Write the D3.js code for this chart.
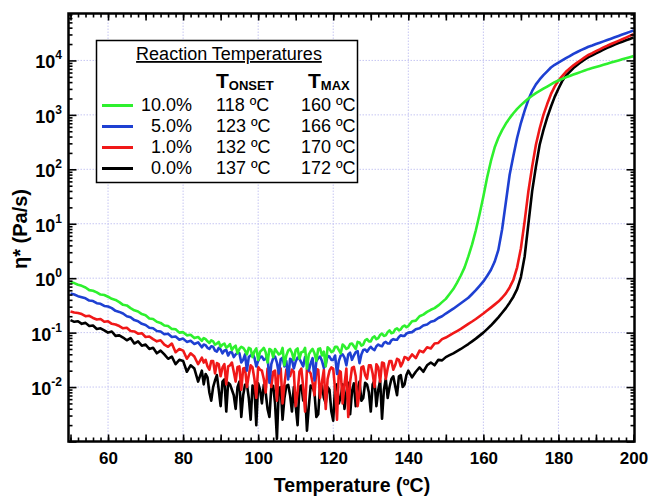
<!DOCTYPE html>
<html>
<head>
<meta charset="utf-8">
<script src="https://cdn.jsdelivr.net/npm/d3@7"></script>
<style>
  body { margin: 0; background: #fff; }
  svg { display: block; }
  text { font-family: "Liberation Sans", Arial, Helvetica, sans-serif; fill: #000; }
</style>
</head>
<body>
<svg id="chart" width="649" height="499"></svg>
<script>
// Temperature sampling (°C): 1 °C steps, 0.5 °C steps through the noisy 85–140 °C band
const temperature = [...d3.range(50, 85), ...d3.range(85, 140, 0.5), ...d3.range(140, 201)];

// η* (Pa·s) for each catalyst loading, aligned with temperature
const eta10 = [
  0.851, 0.813, 0.759, 0.724, 0.676, 0.603, 0.589, 0.550, 0.501, 0.490,
  0.457, 0.417, 0.398, 0.363, 0.324, 0.316, 0.282, 0.257, 0.245, 0.219,
  0.209, 0.182, 0.178, 0.158, 0.151, 0.135, 0.132, 0.117, 0.115, 0.100,
  0.102, 0.0891, 0.0912, 0.0794, 0.0832,
  0.0708, 0.0794, 0.0759, 0.0692, 0.0646, 0.0724, 0.0692, 0.0603, 0.0631, 0.0676,
  0.0550, 0.0603, 0.0631, 0.0525, 0.0562, 0.0617, 0.0479, 0.0537, 0.0575, 0.0417,
  0.0501, 0.0550, 0.0525, 0.0468, 0.0398, 0.0525, 0.0501, 0.0355, 0.0457, 0.0513,
  0.0316, 0.0447, 0.0479, 0.0525, 0.0437, 0.0282, 0.0501, 0.0479, 0.0355, 0.0501,
  0.0447, 0.0398, 0.0417, 0.0525, 0.0251, 0.0380, 0.0468, 0.0501, 0.0427, 0.0316,
  0.0479, 0.0513, 0.0331, 0.0437, 0.0447, 0.0525, 0.0219, 0.0398, 0.0457, 0.0501,
  0.0417, 0.0302, 0.0501, 0.0513, 0.0380, 0.0447, 0.0240, 0.0537, 0.0501, 0.0437,
  0.0457, 0.0550, 0.0550, 0.0479, 0.0417, 0.0603, 0.0562, 0.0501, 0.0525, 0.0617,
  0.0631, 0.0562, 0.0501, 0.0676, 0.0661, 0.0575, 0.0603, 0.0724, 0.0759, 0.0692,
  0.0692, 0.0813, 0.0851, 0.0759, 0.0794, 0.0912, 0.0955, 0.0871, 0.0891, 0.102,
  0.110, 0.0977, 0.100, 0.115, 0.120, 0.110, 0.115, 0.129, 0.135, 0.126,
  0.132, 0.162, 0.166, 0.200, 0.214, 0.240, 0.263, 0.282, 0.316, 0.363,
  0.417, 0.513, 0.631, 0.832, 1.12, 1.58, 2.51, 4.17, 7.59, 15.1,
  31.6, 70.8, 141, 251, 380, 525, 692, 871, 1070, 1290,
  1510, 1740, 2000, 2240, 2510, 2750, 3020, 3310, 3630, 3980,
  4270, 4570, 4900, 5190, 5500, 5820, 6170, 6530, 6920, 7240,
  7590, 7940, 8320, 8710, 9120, 9550, 10000, 10500, 11000, 11500, 12000
];
const eta5 = [
  0.525, 0.501, 0.468, 0.447, 0.427, 0.389, 0.380, 0.347, 0.339, 0.309,
  0.302, 0.282, 0.251, 0.240, 0.224, 0.200, 0.191, 0.170, 0.162, 0.145,
  0.138, 0.123, 0.120, 0.107, 0.105, 0.0933, 0.0955, 0.0832, 0.0851, 0.0741,
  0.0776, 0.0676, 0.0708, 0.0617, 0.0661,
  0.0537, 0.0603, 0.0589, 0.0525, 0.0501, 0.0562, 0.0550, 0.0468, 0.0447, 0.0525,
  0.0490, 0.0417, 0.0468, 0.0479, 0.0380, 0.0437, 0.0437, 0.0355, 0.0398, 0.0427,
  0.0417, 0.0282, 0.0316, 0.0398, 0.0200, 0.0355, 0.0380, 0.0417, 0.0347, 0.0240,
  0.0302, 0.0355, 0.0363, 0.0316, 0.0331, 0.0380, 0.0120, 0.0263, 0.0339, 0.0363,
  0.0282, 0.0178, 0.0324, 0.0347, 0.0240, 0.0302, 0.0138, 0.0331, 0.0316, 0.0219,
  0.0295, 0.0347, 0.0331, 0.0282, 0.0240, 0.0355, 0.0316, 0.0200, 0.0275, 0.0339,
  0.0132, 0.0302, 0.0339, 0.0363, 0.0302, 0.0224, 0.0263, 0.0372, 0.0363, 0.0316,
  0.0316, 0.0380, 0.0174, 0.0302, 0.0380, 0.0398, 0.0347, 0.0251, 0.0398, 0.0427,
  0.0316, 0.0380, 0.0437, 0.0457, 0.0275, 0.0398, 0.0479, 0.0490, 0.0447, 0.0501,
  0.0550, 0.0501, 0.0479, 0.0562, 0.0603, 0.0575, 0.0562, 0.0646, 0.0676, 0.0631,
  0.0631, 0.0724, 0.0759, 0.0741, 0.0741, 0.0832, 0.0891, 0.0871, 0.0871, 0.0955,
  0.100, 0.102, 0.115, 0.120, 0.135, 0.141, 0.158, 0.166, 0.186, 0.200,
  0.224, 0.248, 0.275, 0.309, 0.347, 0.389, 0.437, 0.513, 0.603, 0.724,
  0.871, 1.10, 1.41, 2.00, 3.31, 7.94, 25.1, 79.4, 178, 380,
  708, 1200, 1910, 2750, 3630, 4470, 5370, 6310, 7410, 8320,
  9120, 10000, 11000, 12000, 13200, 14300, 15500, 16600, 17800, 18800,
  20000, 21100, 22400, 23700, 25100, 26600, 28200, 29900, 31600, 33500, 35500
];
const eta1 = [
  0.245, 0.234, 0.229, 0.219, 0.200, 0.204, 0.186, 0.174, 0.178, 0.158,
  0.162, 0.145, 0.141, 0.132, 0.120, 0.123, 0.107, 0.105, 0.0955, 0.0977,
  0.0832, 0.0851, 0.0759, 0.0692, 0.0724, 0.0603, 0.0550, 0.0631, 0.0437, 0.0501,
  0.0468, 0.0331, 0.0417, 0.0363, 0.0263,
  0.0347, 0.0282, 0.0316, 0.0240, 0.0209, 0.0302, 0.0302, 0.0178, 0.0275, 0.0263,
  0.0158, 0.0229, 0.0263, 0.0112, 0.0240, 0.0251, 0.0282, 0.0191, 0.0126, 0.0234,
  0.0240, 0.00891, 0.0219, 0.0224, 0.0100, 0.0166, 0.0251, 0.0229, 0.0141, 0.00631,
  0.0234, 0.0209, 0.0200, 0.0141, 0.00794, 0.0219, 0.0224, 0.0100, 0.0191, 0.0200,
  0.00562, 0.0240, 0.0219, 0.00501, 0.0112, 0.0209, 0.0200, 0.0158, 0.0209, 0.0191,
  0.00447, 0.00794, 0.0191, 0.0219, 0.0100, 0.00355, 0.0219, 0.0200, 0.0178, 0.0120,
  0.00708, 0.0214, 0.0209, 0.00631, 0.0126, 0.0209, 0.00398, 0.0141, 0.0200, 0.0229,
  0.0219, 0.00891, 0.00251, 0.0200, 0.0191, 0.00501, 0.0112, 0.0219, 0.00282, 0.0126,
  0.0224, 0.0234, 0.0158, 0.00447, 0.00794, 0.0229, 0.0240, 0.0166, 0.0141, 0.0251,
  0.0251, 0.0178, 0.0100, 0.0263, 0.0229, 0.0126, 0.0282, 0.0275, 0.0141, 0.0219,
  0.0302, 0.0302, 0.0209, 0.0251, 0.0331, 0.0316, 0.0240, 0.0282, 0.0355, 0.0347,
  0.0316, 0.0398, 0.0339, 0.0468, 0.0437, 0.0537, 0.0513, 0.0631, 0.0646, 0.0759,
  0.0813, 0.0891, 0.0977, 0.107, 0.117, 0.130, 0.145, 0.160, 0.178, 0.200,
  0.224, 0.254, 0.288, 0.327, 0.372, 0.437, 0.525, 0.676, 0.933, 1.58,
  3.55, 11.2, 39.8, 112, 282, 562, 1000, 1580, 2400, 3310,
  4270, 5130, 6170, 7080, 8130, 9120, 10200, 11400, 12600, 13600,
  14800, 16000, 17400, 18600, 20000, 21400, 22900, 24500, 26300, 28200, 30200
];
const eta0 = [
  0.170, 0.158, 0.162, 0.145, 0.151, 0.132, 0.135, 0.117, 0.120, 0.110,
  0.100, 0.105, 0.0871, 0.0891, 0.0813, 0.0724, 0.0794, 0.0631, 0.0692, 0.0575,
  0.0603, 0.0501, 0.0525, 0.0417, 0.0468, 0.0398, 0.0331, 0.0363, 0.0263, 0.0316,
  0.0302, 0.0191, 0.0251, 0.0219, 0.0126,
  0.0200, 0.0112, 0.0174, 0.0151, 0.00794, 0.00562, 0.0100, 0.0132, 0.0166, 0.00891,
  0.00447, 0.0126, 0.0138, 0.00355, 0.0120, 0.0112, 0.00891, 0.00708, 0.00398, 0.0100,
  0.0126, 0.00282, 0.00708, 0.0110, 0.0112, 0.00631, 0.00251, 0.0107, 0.00955, 0.00200,
  0.0117, 0.00891, 0.00501, 0.0110, 0.00794, 0.00398, 0.00282, 0.0100, 0.0105, 0.00501,
  0.00112, 0.00955, 0.0100, 0.00251, 0.00631, 0.0105, 0.0110, 0.00708, 0.00355, 0.0100,
  0.00447, 0.00200, 0.0100, 0.0107, 0.00562, 0.00794, 0.00158, 0.00447, 0.0107, 0.0100,
  0.00794, 0.00282, 0.00316, 0.0110, 0.0105, 0.00631, 0.00501, 0.0100, 0.00891, 0.00355,
  0.00240, 0.0105, 0.0112, 0.00501, 0.00661, 0.0112, 0.00398, 0.00794, 0.0120, 0.00316,
  0.00832, 0.0117, 0.00447, 0.00891, 0.0126, 0.00562, 0.00631, 0.0120, 0.0112, 0.00794,
  0.00355, 0.0112, 0.0132, 0.00447, 0.00891, 0.0132, 0.00263, 0.00891, 0.0141, 0.00631,
  0.0100, 0.0141, 0.0158, 0.0105, 0.00708, 0.0158, 0.0166, 0.0100, 0.0112, 0.0166,
  0.0200, 0.0151, 0.0191, 0.0229, 0.0191, 0.0251, 0.0282, 0.0251, 0.0316, 0.0309,
  0.0355, 0.0385, 0.0417, 0.0457, 0.0501, 0.0556, 0.0617, 0.0692, 0.0776, 0.0881,
  0.100, 0.116, 0.135, 0.160, 0.191, 0.232, 0.282, 0.355, 0.457, 0.631,
  1.05, 2.51, 10.0, 39.8, 112, 282, 525, 891, 1410, 2140,
  3020, 4170, 5250, 6170, 7240, 8220, 9330, 10400, 11500, 12400,
  13500, 14600, 15800, 17000, 18200, 19500, 20900, 22100, 23400, 24800, 26300
];

const seriesLabels = ["10.0%", "5.0%", "1.0%", "0.0%"];
const onsetLabels = ["118 \u00BAC", "123 \u00BAC", "132 \u00BAC", "137 \u00BAC"];
const maxLabels = ["160 \u00BAC", "166 \u00BAC", "170 \u00BAC", "172 \u00BAC"];
const seriesColors = ["#2ef02e", "#1e40d2", "#f01818", "#000000"];
const xTickLabels = [60, 80, 100, 120, 140, 160, 180, 200];
const yTickExponents = [-2, -1, 0, 1, 2, 3, 4];

const svg = d3.select("#chart");
const frame = { left: 68.5, right: 634.5, top: 13.5, bottom: 441.5 };

const x = d3.scaleLinear().domain([50, 200]).range([70.5, 633.5]);
const y = d3.scaleLog().domain([1e-3, 7.28e4]).range([frame.bottom, frame.top]);

// log-axis tick positions
const decades = d3.range(-3, 5).map(e => Math.pow(10, e));
const minorY = [];
decades.forEach(d => { for (let m = 2; m <= 9; m++) if (d * m <= y.domain()[1]) minorY.push(d * m); });

svg.append("defs").append("clipPath").attr("id", "plotClip")
  .append("rect")
  .attr("x", frame.left).attr("y", frame.top)
  .attr("width", frame.right - frame.left).attr("height", frame.bottom - frame.top);

// grid
const grid = svg.append("g").attr("stroke", "#c6c6f2").attr("stroke-width", 1).attr("stroke-dasharray", "1.5,1.5");
grid.selectAll("line.gx").data(xTickLabels.filter(v => v < 200)).join("line")
  .attr("x1", d => x(d)).attr("x2", d => x(d)).attr("y1", frame.top).attr("y2", frame.bottom);
grid.selectAll("line.gy").data(yTickExponents.map(e => Math.pow(10, e))).join("line")
  .attr("class", "gy")
  .attr("x1", frame.left).attr("x2", frame.right).attr("y1", d => y(d)).attr("y2", d => y(d));

// curves (lowest loading underneath)
const series = [eta0, eta1, eta5, eta10].map((vals, i) => ({
  color: seriesColors[3 - i],
  points: temperature.map((t, k) => ({ t, v: vals[k] }))
}));
const line = d3.line().x(d => x(d.t)).y(d => y(d.v));
svg.append("g").attr("clip-path", "url(#plotClip)")
  .selectAll("path").data(series).join("path")
  .attr("d", d => line(d.points))
  .attr("fill", "none")
  .attr("stroke", d => d.color)
  .attr("stroke-width", 2.6)
  .attr("stroke-linejoin", "round");

// axes with inward ticks on all four sides
function styleAxis(g) {
  g.select(".domain").remove();
  g.selectAll(".tick line").attr("stroke", "#000").attr("stroke-width", 1.6);
}
const xMinor = d3.range(50, 201, 2);
const xMid = d3.range(50, 201, 10);

svg.append("g").attr("transform", `translate(0,${frame.bottom})`)
  .call(d3.axisBottom(x).tickValues(xMinor).tickSize(-4).tickFormat("")).call(styleAxis);
svg.append("g").attr("transform", `translate(0,${frame.bottom})`)
  .call(d3.axisBottom(x).tickValues(xMid).tickSize(-7).tickPadding(10)
    .tickFormat(d => (xTickLabels.includes(d) ? d : "")))
  .call(styleAxis)
  .call(g => g.selectAll("text").attr("font-size", 17).attr("font-weight", "bold")
    .attr("font-family", '"Liberation Sans", Arial, sans-serif').attr("fill", "#000"));

svg.append("g").attr("transform", `translate(0,${frame.top})`)
  .call(d3.axisTop(x).tickValues(xMinor).tickSize(-4).tickFormat("")).call(styleAxis);
svg.append("g").attr("transform", `translate(0,${frame.top})`)
  .call(d3.axisTop(x).tickValues(xMid).tickSize(-7).tickFormat("")).call(styleAxis);

svg.append("g").attr("transform", `translate(${frame.left},0)`)
  .call(d3.axisLeft(y).tickValues(minorY).tickSize(-4).tickFormat("")).call(styleAxis);
svg.append("g").attr("transform", `translate(${frame.left},0)`)
  .call(d3.axisLeft(y).tickValues(decades).tickSize(-8).tickFormat("")).call(styleAxis);
svg.append("g").attr("transform", `translate(${frame.right},0)`)
  .call(d3.axisRight(y).tickValues(minorY).tickSize(-4).tickFormat("")).call(styleAxis);
svg.append("g").attr("transform", `translate(${frame.right},0)`)
  .call(d3.axisRight(y).tickValues(decades).tickSize(-8).tickFormat("")).call(styleAxis);

// y tick labels as powers of ten
const yLab = svg.append("g").selectAll("text").data(yTickExponents).join("text")
  .attr("x", 62).attr("y", d => y(Math.pow(10, d)) + 8)
  .attr("text-anchor", "end").attr("font-weight", "bold").attr("font-size", 18);
yLab.append("tspan").text("10");
yLab.append("tspan").attr("font-size", 12).attr("dy", -9).text(d => String(d));

// frame
svg.append("rect")
  .attr("x", frame.left).attr("y", frame.top)
  .attr("width", frame.right - frame.left).attr("height", frame.bottom - frame.top)
  .attr("fill", "none").attr("stroke", "#000").attr("stroke-width", 2.5);

// axis titles
svg.append("text").attr("x", 352).attr("y", 492).attr("text-anchor", "middle")
  .attr("font-size", 19.5).attr("font-weight", "bold").text("Temperature (\u00BAC)");
svg.append("text").attr("transform", "translate(27,229) rotate(-90)").attr("text-anchor", "middle")
  .attr("font-size", 20).attr("font-weight", "bold").text("\u03B7* (Pa/s)");

// legend
const lg = svg.append("g");
lg.append("rect").attr("x", 96.5).attr("y", 40.5).attr("width", 261).attr("height", 142)
  .attr("fill", "#fff").attr("stroke", "#000").attr("stroke-width", 1.5);
lg.append("text").attr("x", 229).attr("y", 60).attr("text-anchor", "middle")
  .attr("font-size", 18).attr("text-decoration", "underline").text("Reaction Temperatures");

function header(xPos, sub) {
  const t = lg.append("text").attr("x", xPos).attr("y", 88).attr("font-weight", "bold");
  t.append("tspan").attr("font-size", 21).text("T");
  t.append("tspan").attr("font-size", 13).attr("dy", 2).text(sub);
}
header(216, "ONSET");
header(308, "MAX");

const rows = lg.selectAll("g.row").data(seriesLabels).join("g").attr("class", "row")
  .attr("transform", (d, i) => `translate(0,${111 + i * 21})`);
rows.append("line").attr("x1", 102).attr("x2", 133).attr("y1", -5.5).attr("y2", -5.5)
  .attr("stroke", (d, i) => seriesColors[i]).attr("stroke-width", 3);
rows.append("text").attr("x", 192).attr("text-anchor", "end").attr("font-size", 18).text(d => d);
rows.append("text").attr("x", 216).attr("font-size", 18).text((d, i) => onsetLabels[i]);
rows.append("text").attr("x", 301).attr("font-size", 18).text((d, i) => maxLabels[i]);
</script>
</body>
</html>
